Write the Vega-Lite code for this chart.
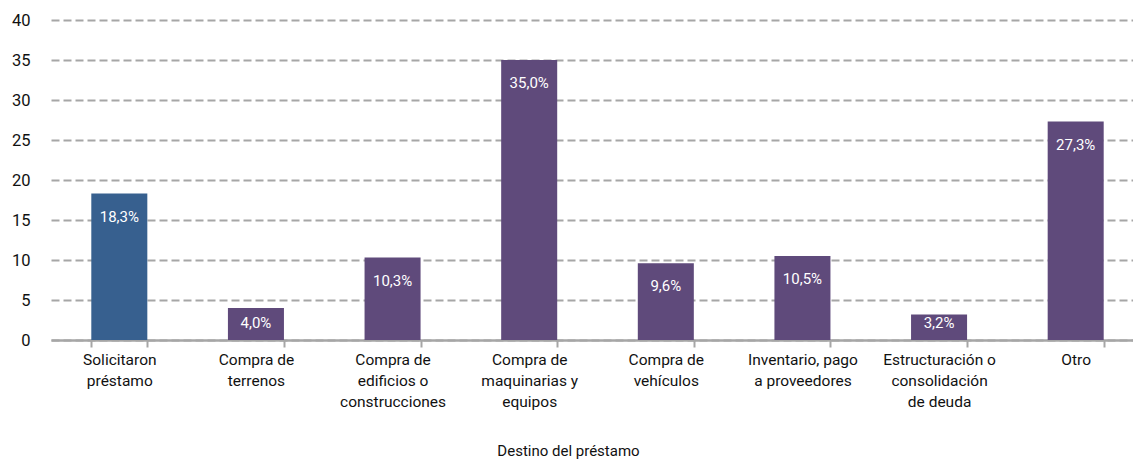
{
  "$schema": "https://vega.github.io/schema/vega-lite/v6.json",
  "autosize": {"type": "none"},
  "padding": {"left": 51, "top": 20, "right": 0, "bottom": 119},
  "width": 1082,
  "height": 320,
  "background": "white",
  "data": {
    "values": [
      {"destino": "Solicitaron|préstamo", "valor": 18.3, "grupo": "Total"},
      {"destino": "Compra de|terrenos", "valor": 4.0, "grupo": "Destino"},
      {"destino": "Compra de|edificios o|construcciones", "valor": 10.3, "grupo": "Destino"},
      {"destino": "Compra de|maquinarias y|equipos", "valor": 35.0, "grupo": "Destino"},
      {"destino": "Compra de|vehículos", "valor": 9.6, "grupo": "Destino"},
      {"destino": "Inventario, pago|a proveedores", "valor": 10.5, "grupo": "Destino"},
      {"destino": "Estructuración o|consolidación|de deuda", "valor": 3.2, "grupo": "Destino"},
      {"destino": "Otro", "valor": 27.3, "grupo": "Destino"}
    ]
  },
  "transform": [
    {"calculate": "replace(format(datum.valor, '.1f'), '.', ',') + '%'", "as": "etiqueta"},
    {"calculate": "max(datum.valor - 2.875, 2.125)", "as": "posEtiqueta"}
  ],
  "encoding": {
    "x": {
      "field": "destino",
      "type": "nominal",
      "sort": null,
      "scale": {"paddingInner": 0.59, "paddingOuter": 0.295, "range": [0, 1093]},
      "axis": {
        "title": "Destino del préstamo",
        "titleFont": "Roboto",
        "titleFontSize": 15,
        "titleFontWeight": "normal",
        "titleColor": "#111111",
        "titleX": 517,
        "titleY": 110,
        "titleBaseline": "middle",
        "labelExpr": "split(datum.label, '|')",
        "labelAngle": 0,
        "labelFont": "Roboto",
        "labelFontSize": 15.5,
        "labelColor": "#111111",
        "labelLineHeight": 21,
        "labelPadding": 5,
        "labelBaseline": "top",
        "tickBand": "extent",
        "ticks": true,
        "tickSize": 7,
        "tickColor": "#A6A6A6",
        "tickWidth": 2,
        "domainColor": "#A6A6A6",
        "domainWidth": 2.5,
        "grid": false
      }
    }
  },
  "layer": [
    {
      "mark": {"type": "bar"},
      "encoding": {
        "y": {
          "field": "valor",
          "type": "quantitative",
          "scale": {"domain": [0, 40], "nice": false},
          "axis": {
            "title": null,
            "values": [0, 5, 10, 15, 20, 25, 30, 35, 40],
            "labelFont": "Roboto",
            "labelFontSize": 16.5,
            "labelColor": "#111111",
            "labelPadding": 21,
            "ticks": false,
            "domain": false,
            "grid": true,
            "gridColor": "#A6A6A6",
            "gridWidth": 2,
            "gridDash": [8, 4]
          }
        },
        "color": {
          "field": "grupo",
          "type": "nominal",
          "scale": {"domain": ["Total", "Destino"], "range": ["#37608F", "#5F4A7B"]},
          "legend": null
        }
      }
    },
    {
      "mark": {"type": "text", "baseline": "middle", "color": "white", "font": "Roboto", "fontSize": 15},
      "encoding": {
        "y": {
          "field": "posEtiqueta",
          "type": "quantitative",
          "scale": {"domain": [0, 40], "nice": false},
          "axis": {
            "title": null,
            "values": [0, 5, 10, 15, 20, 25, 30, 35, 40],
            "labelFont": "Roboto",
            "labelFontSize": 16.5,
            "labelColor": "#111111",
            "labelPadding": 21,
            "ticks": false,
            "domain": false,
            "grid": true,
            "gridColor": "#A6A6A6",
            "gridWidth": 2,
            "gridDash": [8, 4]
          }
        },
        "text": {"field": "etiqueta", "type": "nominal"}
      }
    }
  ],
  "config": {"view": {"stroke": null}}
}
